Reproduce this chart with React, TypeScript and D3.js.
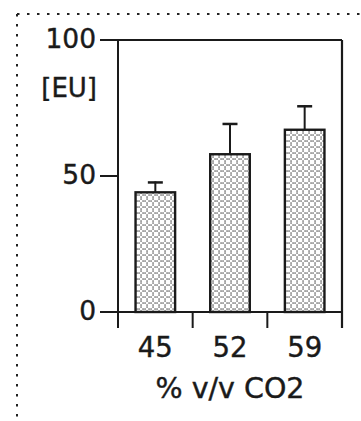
import React from "react";
import * as d3 from "d3";

const categories = ["45", "52", "59"];
const means = [44, 58, 67];
const errorTops = [48, 69.5, 76];
const yTicks = [0, 50, 100];
const yUnit = "[EU]";
const xTitle = "% v/v CO2";

export default function App() {
  const W = 361, H = 421;
  const x = d3.scaleBand<string>().domain(categories).range([118, 342]).paddingInner(0.47).paddingOuter(0.235);
  const xb = d3.scaleBand<string>().domain(categories).range([118, 342]);
  const y = d3.scaleLinear().domain([0, 100]).range([312, 40]);
  const font = "'DejaVu Sans', sans-serif";
  const ink = "#1a1a1a";
  const textStyle = { stroke: ink, strokeWidth: 0.4 } as React.CSSProperties;
  return (
    <svg width={W} height={H} style={{ position: "absolute", left: 0, top: 0, background: "#fff" }}>
      <defs>
        <pattern id="dots" width="6" height="6" patternUnits="userSpaceOnUse">
          <rect width="6" height="6" fill="#fff" />
          <rect x="2.4" y="0.4" width="1.3" height="1.3" fill="#444" />
          <rect x="0.4" y="2.4" width="1.3" height="1.3" fill="#444" />
          <rect x="4.4" y="2.4" width="1.3" height="1.3" fill="#444" />
          <rect x="2.4" y="4.4" width="1.3" height="1.3" fill="#444" />
        </pattern>
      </defs>
      {/* dotted border */}
      <line x1={17} y1={14} x2={361} y2={14} stroke="#222" strokeWidth={2} strokeDasharray="2.5 7.5" />
      <line x1={17} y1={14} x2={17} y2={421} stroke="#222" strokeWidth={2} strokeDasharray="2.5 7.5" />
      {/* bars */}
      {categories.map((c, i) => {
        const bx = x(c)!;
        const bw = x.bandwidth();
        const cx = bx + bw / 2;
        return (
          <g key={c}>
            <line x1={cx} x2={cx} y1={y(means[i])} y2={y(errorTops[i])} stroke={ink} strokeWidth={2} />
            <line x1={cx - 7.5} x2={cx + 7.5} y1={y(errorTops[i]) + 1} y2={y(errorTops[i]) + 1} stroke={ink} strokeWidth={2.5} />
            <rect x={bx} y={y(means[i])} width={bw} height={y(0) - y(means[i])} fill="url(#dots)" stroke={ink} strokeWidth={2.4} />
          </g>
        );
      })}
      {/* frame */}
      <line x1={118} y1={40} x2={342} y2={40} stroke={ink} strokeWidth={2.2} />
      <line x1={342} y1={40} x2={342} y2={328} stroke={ink} strokeWidth={2.2} />
      <line x1={118} y1={40} x2={118} y2={328} stroke={ink} strokeWidth={2} />
      <line x1={100} y1={312} x2={342} y2={312} stroke={ink} strokeWidth={2.2} />
      {/* x boundary ticks */}
      {categories.slice(1).map((c) => (
        <line key={"t" + c} x1={xb(c)!} x2={xb(c)!} y1={312} y2={328} stroke={ink} strokeWidth={2} />
      ))}
      {/* y ticks */}
      {yTicks.map((t) => (
        <g key={"y" + t}>
          <line x1={100} x2={118} y1={y(t)} y2={y(t)} stroke={ink} strokeWidth={2} />
          <text x={96} y={y(t) + 8} textAnchor="end" fontFamily={font} fontSize={26.5} fill={ink} style={textStyle}>{t}</text>
        </g>
      ))}
      <text x={97} y={97} textAnchor="end" fontFamily={font} fontSize={26} fill={ink} style={textStyle}>{yUnit}</text>
      {/* x labels */}
      {categories.map((c) => (
        <text key={"x" + c} x={x(c)! + x.bandwidth() / 2} y={357} textAnchor="middle" fontFamily={font} fontSize={27.5} fill={ink} style={textStyle}>{c}</text>
      ))}
      <text x={230} y={398} textAnchor="middle" fontFamily={font} fontSize={28.5} fill={ink} style={textStyle}>{xTitle}</text>
    </svg>
  );
}
